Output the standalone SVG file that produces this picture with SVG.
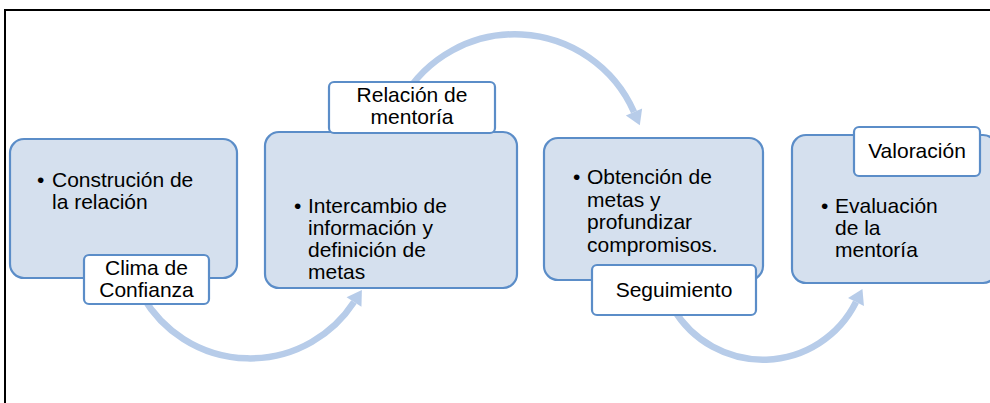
<svg xmlns="http://www.w3.org/2000/svg" width="990" height="403" viewBox="0 0 990 403">
<defs>
<style>
.big{fill:#D5E0EE;stroke:#5B8DC8;stroke-width:2.2}
.lbl{fill:#FFFFFF;stroke:#5B8DC8;stroke-width:2.2}
.arc{fill:none;stroke:#B7CCE9;stroke-width:6.5}
text{font-family:"Liberation Sans",Arial,sans-serif;font-size:21px;fill:#000}
.c{text-anchor:middle}
</style>
<marker id="ah" markerUnits="userSpaceOnUse" markerWidth="20" markerHeight="20" refX="0" refY="9" orient="auto" viewBox="0 0 14 18">
<path d="M0,1 L13,9 L0,17 Z" fill="#B7CCE9"/>
</marker>
</defs>
<polyline points="5,403 5,10 990,10" fill="none" stroke="#000" stroke-width="2"/>
<g id="connectors">
<path class="arc" d="M143,297 A124,124 0 0 0 354,302" marker-end="url(#ah)"/>
<path class="arc" d="M402,100 A130,130 0 0 1 634,112" marker-end="url(#ah)"/>
<path class="arc" d="M673,308 A104,104 0 0 0 856,302" marker-end="url(#ah)"/>
</g>
<g id="node1">
<rect class="big" x="10" y="139" width="227" height="139" rx="14"/>
<text x="37" y="187">•</text>
<text x="52" y="187">Construción de</text>
<text x="52" y="209">la relación</text>
</g>
<g id="label1">
<rect class="lbl" x="84" y="255" width="125" height="49" rx="5"/>
<text class="c" x="146.5" y="275">Clima de</text>
<text class="c" x="146.5" y="297">Confianza</text>
</g>
<g id="node2">
<rect class="big" x="265" y="132" width="252" height="156" rx="14"/>
<text x="294" y="213">•</text>
<text x="308" y="213">Intercambio de</text>
<text x="308" y="235">información y</text>
<text x="308" y="257">definición de</text>
<text x="308" y="279">metas</text>
</g>
<g id="label2">
<rect class="lbl" x="329" y="82" width="166" height="51" rx="5"/>
<text class="c" x="412" y="102">Relación de</text>
<text class="c" x="412" y="124">mentoría</text>
</g>
<g id="node3">
<rect class="big" x="544" y="138" width="219" height="142" rx="14"/>
<text x="573" y="184">•</text>
<text x="587" y="184">Obtención de</text>
<text x="587" y="206.5">metas y</text>
<text x="587" y="229">profundizar</text>
<text x="587" y="251.5">compromisos.</text>
</g>
<g id="label3">
<rect class="lbl" x="592" y="265" width="164" height="50" rx="5"/>
<text class="c" x="674" y="297">Seguimiento</text>
</g>
<g id="node4">
<rect class="big" x="792" y="135" width="205" height="148" rx="14"/>
<text x="821" y="213">•</text>
<text x="835" y="213">Evaluación</text>
<text x="835" y="235">de la</text>
<text x="835" y="257">mentoría</text>
</g>
<g id="label4">
<rect class="lbl" x="854" y="127" width="126" height="49" rx="5"/>
<text class="c" x="917" y="158">Valoración</text>
</g>
</svg>
